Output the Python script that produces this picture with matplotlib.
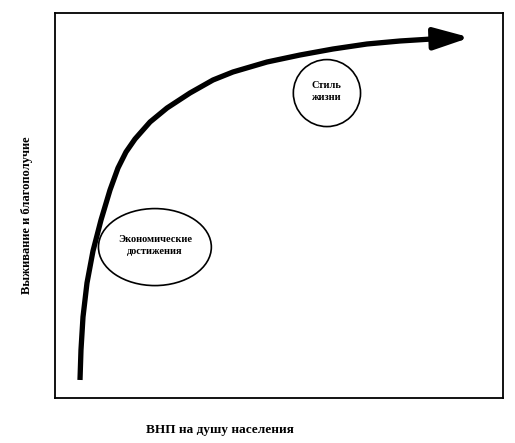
import matplotlib
matplotlib.use("Agg")
import matplotlib.pyplot as plt
from matplotlib.patches import Ellipse

plt.rcParams['font.family'] = ['Liberation Serif', 'DejaVu Serif']

# curve: welfare vs GNP per capita (schematic)
gnp = [5.58, 5.80, 6.25, 7.14, 8.48, 10.27, 12.28, 14.06, 15.85, 17.86, 21.21,
       25.00, 30.13, 35.27, 39.73, 47.32, 54.69, 62.05, 69.64, 77.01, 85.94]
welfare = [4.68, 12.47, 21.04, 29.87, 38.18, 46.23, 54.03, 59.74, 63.90, 67.27,
           71.69, 75.32, 79.22, 82.60, 84.68, 87.27, 89.09, 90.65, 91.95,
           92.73, 93.38]
arrow_tip = (92.63, 93.64)

zone_labels = ["Экономические\nдостижения", "Стиль\nжизни"]
zone_centers = [(22.3, 39.2), (60.7, 79.2)]
zone_sizes = [(25.2, 20.0), (15.0, 17.4)]

x_label = "ВНП на душу населения"
y_label = "Выживание и благополучие"

fig = plt.figure(figsize=(5.15, 4.43), dpi=100)
ax = fig.add_axes([55 / 515, 1 - 398 / 443, 448 / 515, 385 / 443])
ax.set_xlim(0, 100)
ax.set_ylim(0, 100)
ax.set_xticks([])
ax.set_yticks([])
for s in ax.spines.values():
    s.set_linewidth(1.3)
    s.set_color('black')

ax.plot(gnp, welfare, color='black', lw=3.8, solid_capstyle='butt',
        solid_joinstyle='round')
ax.annotate('', xy=arrow_tip, xytext=(gnp[-1], welfare[-1]),
            arrowprops=dict(arrowstyle='-|>,head_length=1.8,head_width=0.55',
                            color='black', lw=3.8, shrinkA=0, shrinkB=0,
                            mutation_scale=12))

for lab, c, (w, h) in zip(zone_labels, zone_centers, zone_sizes):
    ax.add_patch(Ellipse(c, w, h, facecolor='none', edgecolor='black', lw=1.2))
    ax.text(c[0], c[1] + 0.5, lab, ha='center', va='center', fontsize=7.5,
            fontweight='bold', linespacing=1.45)

fig.text(220 / 515, 1 - 430 / 443, x_label, ha='center', va='center',
         fontsize=9.5, fontweight='bold')
fig.text(27 / 515, 1 - 215 / 443, y_label, ha='center', va='center',
         rotation=90, fontsize=9, fontweight='bold')

fig.savefig('out.png', dpi=100)
